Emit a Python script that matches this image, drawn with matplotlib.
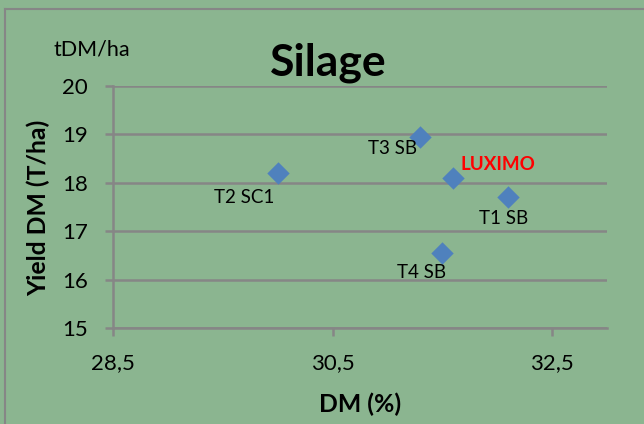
import matplotlib
matplotlib.use("Agg")
import matplotlib.pyplot as plt
from matplotlib.lines import Line2D

labels = ["T2 SC1", "T3 SB", "LUXIMO", "T1 SB", "T4 SB"]
dm = [30.0, 31.3, 31.6, 32.1, 31.5]
yield_dm = [18.2, 18.95, 18.1, 17.7, 16.55]
label_offsets = [(-33, -24), (-28, -12), (45, 13), (-5, -21), (-21, -20)]
x_ticks = [28.5, 30.5, 32.5]
x_tick_labels = ["28,5", "30,5", "32,5"]
y_ticks = [15, 16, 17, 18, 19, 20]

plt.rcParams['font.family'] = ['Lato', 'DejaVu Sans']
bg = '#8BB590'
grid_c = '#868686'

fig = plt.figure(figsize=(6.44, 4.24), dpi=100, facecolor=bg)
ax = fig.add_axes([113/644, 1-328/424, (607-113)/644, (328-86)/424])
ax.set_facecolor(bg)

ax.scatter(dm, yield_dm, marker='D', s=130, color='#4F81BD', zorder=3, linewidths=0)
for lab, x, y, off in zip(labels, dm, yield_dm, label_offsets):
    if lab == "LUXIMO":
        ax.annotate(lab, (x, y), xytext=off, textcoords='offset pixels', ha='center', va='center',
                    fontsize=13.5, color='#FF0000', fontweight='bold')
    else:
        ax.annotate(lab, (x, y), xytext=off, textcoords='offset pixels', ha='center', va='center',
                    fontsize=13.5, color='black')

ax.set_xlim(28.5, 33.0)
ax.set_ylim(15, 20)
ax.set_xticks(x_ticks)
ax.set_xticklabels(x_tick_labels)
ax.set_yticks(y_ticks)
ax.yaxis.grid(True, color=grid_c, linewidth=1.8)
ax.set_axisbelow(True)
for s in ['top', 'right']:
    ax.spines[s].set_visible(False)
for s in ['left', 'bottom']:
    ax.spines[s].set_color(grid_c)
    ax.spines[s].set_linewidth(1.8)
ax.tick_params(axis='both', colors=grid_c, width=1.8, length=6, labelsize=16, labelcolor='black')
ax.tick_params(axis='x', pad=12)
ax.tick_params(axis='y', pad=12)

fig.text(360/644, 1-404/424, "DM (%)", ha='center', va='center', fontsize=17.8, fontweight='bold')
fig.text(38/644, 1-208/424, "Yield DM (T/ha)", ha='center', va='center', fontsize=17.8,
         fontweight='bold', rotation=90)

fig.text(328/644, 1-63/424, "Silage", ha='center', va='center', fontsize=32, fontweight='bold')
fig.text(92/644, 1-49/424, "tDM/ha", ha='center', va='center', fontsize=15.5)

fig.add_artist(Line2D([5/644, 5/644], [0, 1-9/424], transform=fig.transFigure, color=grid_c, linewidth=1.5))
fig.add_artist(Line2D([5/644, 1], [1-9/424, 1-9/424], transform=fig.transFigure, color=grid_c, linewidth=1.5))

fig.savefig("out.png", dpi=100, facecolor=bg)
